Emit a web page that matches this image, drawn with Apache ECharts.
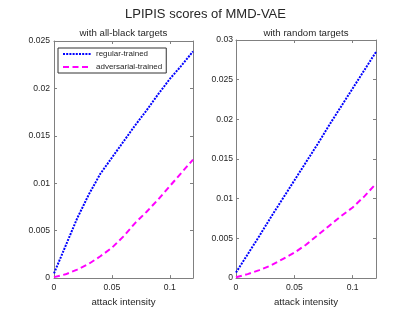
<!DOCTYPE html>
<html>
<head>
<meta charset="utf-8">
<script src="https://cdn.jsdelivr.net/npm/echarts@6/dist/echarts.min.js"></script>
<style>
html,body{margin:0;padding:0;background:#fff;}
#chart{width:415px;height:312px;}
</style>
</head>
<body>
<div id="chart"></div>
<script>
// ---- data ----
const mainTitle = 'LPIPIS scores of MMD-VAE';
const panelTitles = ['with all-black targets', 'with random targets'];
const xName = 'attack intensity';
const seriesNames = ['regular-trained', 'adversarial-trained'];
const attackIntensity = [0, 0.01, 0.02, 0.03, 0.04, 0.05, 0.06, 0.07, 0.08, 0.09, 0.10, 0.11, 0.12];
const blackRegular     = [0.0005, 0.0034, 0.0063, 0.0088, 0.0110, 0.0127, 0.0144, 0.0161, 0.0177, 0.0194, 0.0210, 0.0224, 0.0239];
const blackAdversarial = [0.0001, 0.0004, 0.0009, 0.0015, 0.0023, 0.0032, 0.0044, 0.0058, 0.0070, 0.0083, 0.0097, 0.0111, 0.0125];
const randomRegular     = [0.0007, 0.0030, 0.0053, 0.0077, 0.0100, 0.0123, 0.0146, 0.0169, 0.0193, 0.0216, 0.0239, 0.0262, 0.0285];
const randomAdversarial = [0.0001, 0.0005, 0.0010, 0.0016, 0.0024, 0.0032, 0.0042, 0.0054, 0.0066, 0.0078, 0.0089, 0.0103, 0.0119];
const xTicks = [0, 0.05, 0.1];
const yTicksLeft = [0, 0.005, 0.01, 0.015, 0.02, 0.025];
const yTicksRight = [0, 0.005, 0.01, 0.015, 0.02, 0.025, 0.03];

// ---- chart ----
const FONT = 'Liberation Sans, Arial, Helvetica, sans-serif';
const TXT = '#262626';
const AX = '#808080';
const pairs = (xs, ys) => xs.map((x, i) => [x, ys[i]]);
const fmt = v => String(+(+v).toFixed(4));

const chart = echarts.init(document.getElementById('chart'), null, {renderer: 'canvas'});

const grids = [
  {left: 54, top: 41, width: 139, height: 242, show: false},
  {left: 236, top: 40, width: 140, height: 240, show: false}
];

function xAxisMain(gi) {
  return {
    type: 'value', gridIndex: gi, min: 0, max: 0.12, interval: 0.05, position: 'bottom',
    name: xName, nameLocation: 'middle', nameGap: 15,
    nameTextStyle: {fontFamily: FONT, fontSize: 9.7, color: TXT},
    axisLine: {show: true, onZero: false, lineStyle: {color: AX, width: 1}},
    axisTick: {show: true, inside: true, length: 3, lineStyle: {color: AX}},
    axisLabel: {margin: 5, fontFamily: FONT, fontSize: 8.6, color: TXT, showMaxLabel: false,
      formatter: v => (xTicks.some(t => Math.abs(t - v) < 1e-9) ? fmt(v) : '')},
    splitLine: {show: false}
  };
}
function xAxisTop(gi) {
  return {
    type: 'value', gridIndex: gi, min: 0, max: 0.12, interval: 0.05, position: 'top',
    axisLine: {show: true, onZero: false, lineStyle: {color: AX, width: 1}},
    axisTick: {show: true, inside: true, length: 3, lineStyle: {color: AX}},
    axisLabel: {show: false}, splitLine: {show: false}
  };
}
function yAxisMain(gi, max, margin) {
  const ticks = gi === 0 ? yTicksLeft : yTicksRight;
  return {
    type: 'value', gridIndex: gi, min: 0, max: max, interval: 0.005, position: 'left',
    axisLine: {show: true, onZero: false, lineStyle: {color: AX, width: 1}},
    axisTick: {show: true, inside: true, length: 3, lineStyle: {color: AX}},
    axisLabel: {margin: margin, fontFamily: FONT, fontSize: 8.6, color: TXT,
      formatter: v => (ticks.some(t => Math.abs(t - v) < 1e-9) ? fmt(v) : '')},
    splitLine: {show: false}
  };
}
function yAxisRight(gi, max) {
  return {
    type: 'value', gridIndex: gi, min: 0, max: max, interval: 0.005, position: 'right',
    axisLine: {show: true, onZero: false, lineStyle: {color: AX, width: 1}},
    axisTick: {show: true, inside: true, length: 3, lineStyle: {color: AX}},
    axisLabel: {show: false}, splitLine: {show: false}
  };
}

const dotted = {color: '#0000ff', width: 2, type: [2, 1.2], cap: 'butt'};
const dashed = {color: '#ff00ff', width: 2, type: [6, 3.5], cap: 'butt'};

function lineSeries(name, xi, yi, data, ls) {
  return {
    name: name, type: 'line', xAxisIndex: xi, yAxisIndex: yi,
    data: data, showSymbol: false, symbol: 'none', smooth: false,
    lineStyle: ls, itemStyle: {color: ls.color}, animation: false, clip: true
  };
}

chart.setOption({
  animation: false,
  backgroundColor: '#fff',
  textStyle: {fontFamily: FONT},
  grid: grids,
  xAxis: [xAxisMain(0), xAxisMain(1), xAxisTop(0), xAxisTop(1)],
  yAxis: [yAxisMain(0, 0.025, 4), yAxisMain(1, 0.03, 3), yAxisRight(0, 0.025), yAxisRight(1, 0.03)],
  legend: {
    data: seriesNames, orient: 'vertical', left: 58, top: 48,
    padding: [2, 4, 2, 4], itemGap: 5, itemWidth: 28, itemHeight: 8,
    backgroundColor: '#fff', borderColor: '#333', borderWidth: 1, borderRadius: 0,
    itemStyle: {opacity: 0},
    textStyle: {fontFamily: FONT, fontSize: 8, color: TXT},
    selectedMode: false
  },
  graphic: [
    {type: 'text', x: 205.5, y: 14, style: {text: mainTitle, fontFamily: FONT, fontSize: 13, fill: TXT, textAlign: 'center', textVerticalAlign: 'middle'}},
    {type: 'text', x: 123.5, y: 33, style: {text: panelTitles[0], fontFamily: FONT, fontSize: 9.7, fill: TXT, textAlign: 'center', textVerticalAlign: 'middle'}},
    {type: 'text', x: 306, y: 33, style: {text: panelTitles[1], fontFamily: FONT, fontSize: 9.7, fill: TXT, textAlign: 'center', textVerticalAlign: 'middle'}}
  ],
  series: [
    lineSeries(seriesNames[0], 0, 0, pairs(attackIntensity, blackRegular), dotted),
    lineSeries(seriesNames[1], 0, 0, pairs(attackIntensity, blackAdversarial), dashed),
    lineSeries(seriesNames[0], 1, 1, pairs(attackIntensity, randomRegular), dotted),
    lineSeries(seriesNames[1], 1, 1, pairs(attackIntensity, randomAdversarial), dashed)
  ]
});
</script>
</body>
</html>
